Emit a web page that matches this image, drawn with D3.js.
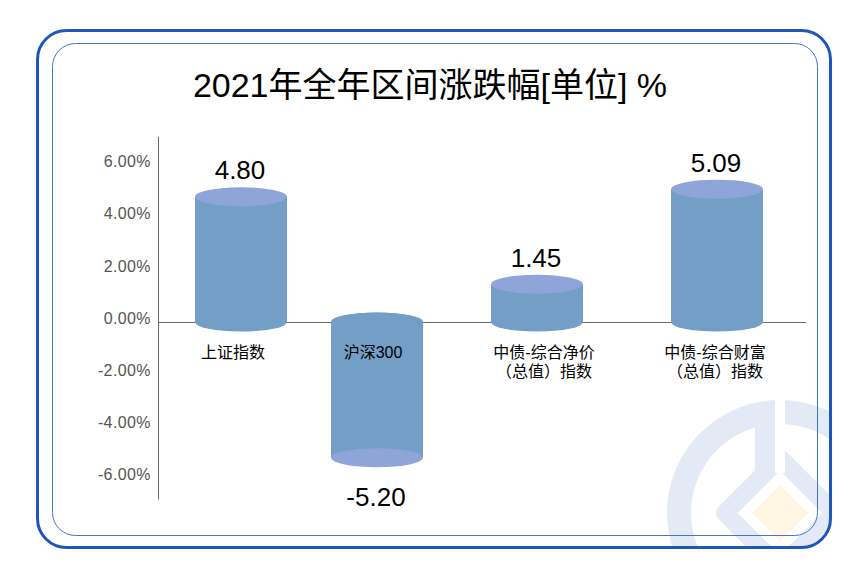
<!DOCTYPE html>
<html><head><meta charset="utf-8">
<script src="https://cdn.jsdelivr.net/npm/d3@7/dist/d3.min.js"></script>
<style>
html,body{margin:0;padding:0;background:#fff;}
svg{display:block;}
text{font-family:"Liberation Sans","Noto Sans CJK SC",sans-serif;}
</style></head>
<body>
<script>
const title = "2021年全年区间涨跌幅[单位] %";
const categories = ["上证指数", "沪深300", "中债-综合净价（总值）指数", "中债-综合财富（总值）指数"];
const labelLines = [["上证指数"], ["沪深300"], ["中债-综合净价", "（总值）指数"], ["中债-综合财富", "（总值）指数"]];
const values = [4.80, -5.20, 1.45, 5.09];
const valueLabels = ["4.80", "-5.20", "1.45", "5.09"];
const tickValues = [-6, -4, -2, 0, 2, 4, 6];
const tickLabels = ["-6.00%", "-4.00%", "-2.00%", "0.00%", "2.00%", "4.00%", "6.00%"];

const W = 860, H = 574;
const svg = d3.select("body").append("svg").attr("width", W).attr("height", H);

// clip to outer frame
svg.append("defs").append("clipPath").attr("id", "frameClip")
  .append("rect").attr("x", 36).attr("y", 29).attr("width", 796).attr("height", 520).attr("rx", 30);

// watermark logo
const logo = svg.append("g").attr("clip-path", "url(#frameClip)");
const lc = [780, 513], wm = "#e4eaf5";
logo.append("circle").attr("cx", lc[0]).attr("cy", lc[1]).attr("r", 101)
  .attr("fill", "none").attr("stroke", wm).attr("stroke-width", 24);
const dpath = (h) => `M${lc[0]},${lc[1]-h}L${lc[0]+h},${lc[1]}L${lc[0]},${lc[1]+h}L${lc[0]-h},${lc[1]}Z`;
logo.append("path").attr("d", dpath(55)).attr("fill", "none").attr("stroke", wm)
  .attr("stroke-width", 18).attr("stroke-linejoin", "round");
logo.append("rect").attr("x", 755).attr("y", 412).attr("width", 20).attr("height", 60).attr("fill", wm);
logo.append("rect").attr("x", 775).attr("y", 395).attr("width", 10).attr("height", 78).attr("fill", "#fff");
logo.append("path").attr("d", dpath(28)).attr("fill", "#fff5e2");

// frames
svg.append("rect").attr("x", 37.5).attr("y", 30.5).attr("width", 793).attr("height", 517).attr("rx", 29)
  .attr("fill", "none").attr("stroke", "#1d57ba").attr("stroke-width", 3);
svg.append("rect").attr("x", 52.5).attr("y", 43.5).attr("width", 765).attr("height", 492).attr("rx", 23)
  .attr("fill", "none").attr("stroke", "#3f78cf").attr("stroke-width", 1);

// title
svg.append("text").attr("x", 430).attr("y", 97).attr("text-anchor", "middle")
  .attr("font-size", 34).attr("fill", "#000").text(title);

// scales
const y = d3.scaleLinear().domain([0, 6]).range([322, 322 - 6 * 26.1]);
const x = d3.scaleLinear().domain([0, 1, 2, 3]).range([241, 377, 537, 717]);
const xLabel = d3.scaleOrdinal().domain(categories).range([233, 373, 544, 715]);

// axes
const axisColor = "#6b6b6b";
svg.append("line").attr("x1", 158.5).attr("x2", 158.5).attr("y1", y(7.1)).attr("y2", y(-6.8))
  .attr("stroke", axisColor).attr("stroke-width", 1);
svg.append("line").attr("x1", 158).attr("x2", 806).attr("y1", Math.round(y(0)) + 0.5).attr("y2", Math.round(y(0)) + 0.5)
  .attr("stroke", axisColor).attr("stroke-width", 1);

svg.append("g").selectAll("text").data(tickValues).join("text")
  .attr("x", 151).attr("y", d => y(d) - 4).attr("dy", "0.36em")
  .attr("text-anchor", "end").attr("font-size", 16).attr("letter-spacing", 0.4)
  .attr("fill", "#555").text((d, i) => tickLabels[i]);

// cylinders
const body = "#739fc7", cap = "#8fa5d9";
const rx = 46, ry = 9.5;
const bars = svg.append("g").selectAll("g").data(values).join("g");
bars.each(function(v, i) {
  const g = d3.select(this);
  const cx = x(i), y0 = y(0), y1 = y(v);
  g.append("ellipse").attr("cx", cx).attr("cy", y0).attr("rx", rx).attr("ry", ry).attr("fill", body);
  g.append("rect").attr("x", cx - rx).attr("width", 2 * rx)
    .attr("y", Math.min(y0, y1)).attr("height", Math.abs(y1 - y0)).attr("fill", body);
  if (v < 0) {
    // redraw top so that it stays in body colour
    g.append("ellipse").attr("cx", cx).attr("cy", y0).attr("rx", rx).attr("ry", ry).attr("fill", body);
  }
  g.append("ellipse").attr("cx", cx).attr("cy", y1).attr("rx", rx).attr("ry", ry).attr("fill", cap);
});

// value labels
svg.append("g").selectAll("text").data(values).join("text")
  .attr("x", (d, i) => x(i) - 1)
  .attr("y", d => d >= 0 ? y(d) - ry - 8 : y(d) + ry + 39)
  .attr("text-anchor", "middle").attr("font-size", 26).attr("fill", "#000")
  .text((d, i) => valueLabels[i]);

// category labels
const cl = svg.append("g").selectAll("text").data(categories).join("text")
  .attr("x", d => xLabel(d)).attr("y", 358)
  .attr("text-anchor", "middle").attr("font-size", 16).attr("fill", "#000");
cl.each(function(d, i) {
  d3.select(this).selectAll("tspan").data(labelLines[i]).join("tspan")
    .attr("x", xLabel(d)).attr("dy", (t, j) => j === 0 ? 0 : 19).text(t => t);
});
</script>
</body></html>
